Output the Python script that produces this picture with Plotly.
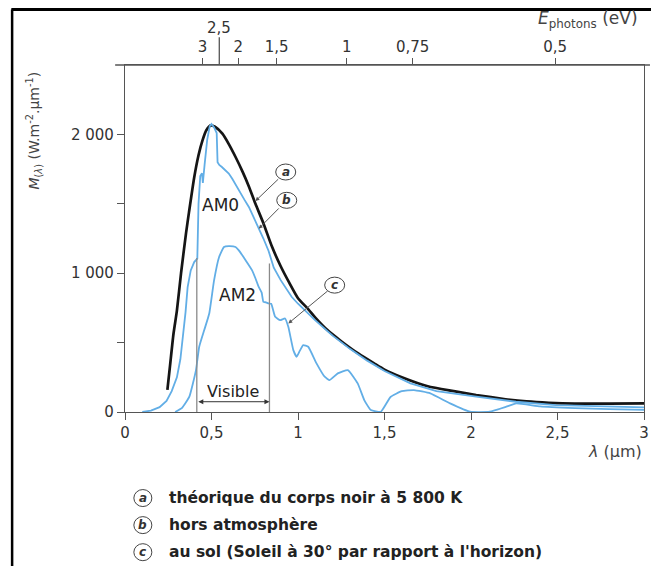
import plotly.graph_objects as go

# ---------------- data ----------------
bb_lambda = [0.245, 0.26, 0.28, 0.30, 0.324, 0.353, 0.37, 0.40, 0.425, 0.448, 0.47, 0.496, 0.52,
             0.563, 0.60, 0.639, 0.68, 0.716, 0.754, 0.80, 0.85, 0.90, 0.95, 1.00, 1.06, 1.10,
             1.17, 1.25, 1.35, 1.44, 1.50, 1.60, 1.75, 1.90, 2.03, 2.20, 2.32, 2.45, 2.60, 2.80, 3.00]
bb_values = [160, 330, 560, 730, 1000, 1290, 1440, 1690, 1850, 1957, 2030, 2065, 2055,
             2005, 1930, 1837, 1730, 1625, 1500, 1360, 1190, 1050, 930, 820, 740, 680,
             590, 510, 420, 350, 305, 250, 185, 150, 122, 92, 76, 66, 60, 60, 62]

am0_lambda = [0.10, 0.15, 0.20, 0.24, 0.27, 0.30, 0.32, 0.334, 0.35, 0.362, 0.38, 0.40, 0.418,
              0.425, 0.435, 0.445, 0.45, 0.46, 0.475, 0.49, 0.50, 0.515, 0.53, 0.535, 0.545,
              0.56, 0.58, 0.60, 0.62, 0.64, 0.658, 0.69, 0.716, 0.745, 0.773, 0.80, 0.83, 0.86,
              0.90, 0.963, 1.0, 1.1, 1.2, 1.3, 1.4, 1.5, 1.65, 1.8, 2.03, 2.26, 2.49, 2.75, 3.0]
am0_values = [0, 10, 35, 80, 150, 250, 380, 520, 720, 900, 1020, 1080, 1105,
              1500, 1700, 1720, 1650, 1780, 1960, 2060, 2075, 2050, 2010, 1800, 1780,
              1765, 1740, 1718, 1680, 1640, 1597, 1530, 1477, 1400, 1333, 1250, 1160, 1040,
              950, 830, 780, 660, 550, 455, 370, 295, 206, 150, 110, 74, 50, 40, 34]

am2_lambda = [0.29, 0.33, 0.372, 0.41, 0.429, 0.458, 0.487, 0.515, 0.544, 0.572, 0.60, 0.639,
              0.658, 0.697, 0.734, 0.755, 0.773, 0.79, 0.80, 0.815, 0.83, 0.845, 0.855, 0.868,
              0.897, 0.925, 0.944, 0.973, 0.992, 1.01, 1.03, 1.059, 1.107, 1.154, 1.183, 1.23,
              1.288, 1.345, 1.383, 1.421, 1.479, 1.536, 1.60, 1.67, 1.765, 1.879, 1.994, 2.108,
              2.204, 2.261, 2.4, 2.6, 2.8, 3.0]
am2_values = [0, 30, 110, 300, 470, 590, 710, 950, 1117, 1189, 1195, 1189,
              1165, 1094, 1022, 960, 901, 860, 793, 790, 782, 780, 740, 686,
              662, 674, 614, 446, 398, 440, 482, 470, 350, 254, 230, 278,
              302, 206, 86, 14, 2, 110, 150, 158, 134, 62, 2, 2,
              38, 62, 40, 28, 20, 15]

visible_bounds = [0.415, 0.835]
visible_tops = [1110, 1070]

x_tickvals = [0, 0.5, 1, 1.5, 2, 2.5, 3]
x_ticktext = ["0", "0,5", "1", "1,5", "2", "2,5", "3"]
y_tickvals = [0, 500, 1000, 1500, 2000]
y_ticktext = ["0", "", "1 000", "", "2 000"]

# photon energy axis (positions in µm, labels in eV)
top_tick_lambda = [0.448, 0.655, 0.876, 1.282, 1.663, 2.486]
top_tick_text = ["3", "2", "1,5", "1", "0,75", "0,5"]
top_major_lambda = 0.545
top_major_text = "2,5"

curve_labels = ["a", "b", "c"]
label_pos_lambda = [0.929, 0.935, 1.212]
label_pos_value = [1729, 1525, 914]
arrow_tip_lambda = [0.754, 0.773, 0.944]
arrow_tip_value = [1520, 1321, 638]

legend_texts = ["théorique du corps noir à 5 800 K",
                "hors atmosphère",
                "au sol (Soleil à 30° par rapport à l'horizon)"]

# ---------------- figure ----------------
FONT = "DejaVu Sans, Verdana, sans-serif"
BLUE = "#62aee6"
AX = "#555555"

fig = go.Figure()
fig.add_trace(go.Scatter(x=bb_lambda, y=bb_values, mode="lines",
                         line=dict(color="#151515", width=2.7, shape="spline", smoothing=0.6),
                         hoverinfo="skip", showlegend=False))
fig.add_trace(go.Scatter(x=am0_lambda, y=am0_values, mode="lines",
                         line=dict(color=BLUE, width=1.8),
                         hoverinfo="skip", showlegend=False))
fig.add_trace(go.Scatter(x=am2_lambda, y=am2_values, mode="lines",
                         line=dict(color=BLUE, width=1.8, shape="spline", smoothing=0.4),
                         hoverinfo="skip", showlegend=False))
for b, t in zip(visible_bounds, visible_tops):
    fig.add_trace(go.Scatter(x=[b, b], y=[0, t], mode="lines",
                             line=dict(color="#8a8a8a", width=1.3),
                             hoverinfo="skip", showlegend=False))
# invisible trace to carry the top axis
fig.add_trace(go.Scatter(x=[0, 3], y=[0, 0], xaxis="x2", mode="lines",
                         line=dict(width=0), opacity=0, hoverinfo="skip", showlegend=False))

annotations = []
shapes = []


def note(**kw):
    kw.setdefault("showarrow", False)
    kw.setdefault("xanchor", "center")
    kw.setdefault("yanchor", "middle")
    annotations.append(kw)


# visible double arrow
annotations.append(dict(x=visible_bounds[1], y=74, ax=visible_bounds[0], ay=74,
                        xref="x", yref="y", axref="x", ayref="y", text="",
                        showarrow=True, arrowside="end+start", arrowhead=2,
                        arrowsize=1, arrowwidth=1, arrowcolor="#333"))
note(x=sum(visible_bounds) / 2, y=148, xref="x", yref="y", text="Visible",
     font=dict(family=FONT, size=16, color="#222"))
note(x=0.553, y=1489, xref="x", yref="y", text="AM0",
     font=dict(family=FONT, size=17, color="#222"))
note(x=0.649, y=842, xref="x", yref="y", text="AM2",
     font=dict(family=FONT, size=17, color="#222"))

# circled curve labels with arrows
for lab, lx, ly, tx, ty in zip(curve_labels, label_pos_lambda, label_pos_value,
                               arrow_tip_lambda, arrow_tip_value):
    annotations.append(dict(x=tx, y=ty, ax=lx, ay=ly, xref="x", yref="y",
                            axref="x", ayref="y", text="<b><i>" + lab + "</i></b>",
                            showarrow=True, arrowhead=2, arrowsize=0.8, arrowwidth=1,
                            arrowcolor="#555", borderpad=3,
                            font=dict(family=FONT, size=12, color="#333")))
    shapes.append(dict(type="circle", xref="x", yref="y", xsizemode="pixel",
                       ysizemode="pixel", xanchor=lx, yanchor=ly,
                       x0=-10, x1=10, y0=-8, y1=8, line=dict(color="#444", width=1)))

# top axis special 2,5 tick
shapes.append(dict(type="line", xref="x", yref="paper", x0=top_major_lambda,
                   x1=top_major_lambda, y0=1.0, y1=1.08, line=dict(color=AX, width=1.3)))
note(x=top_major_lambda, y=1.107, xref="x", yref="paper", text=top_major_text,
     font=dict(family=FONT, size=15, color="#333"))
# top line extension
shapes.append(dict(type="line", xref="paper", yref="paper", x0=-0.019, x1=1.0115,
                   y0=1.0, y1=1.0, line=dict(color=AX, width=1.3)))

# axis titles
note(x=-0.176, y=0.81, xref="paper", yref="paper", textangle=-90,
     text="<i>M</i><sub>(<i>λ</i>)</sub> (W.m<sup>-2</sup>.µm<sup>-1</sup>)",
     font=dict(family=FONT, size=14, color="#444"))
note(x=1.0, y=-0.115, xref="paper", yref="paper", xanchor="right",
     text="<i>λ</i> (µm)", font=dict(family=FONT, size=16, color="#444"))
note(x=0.993, y=1.13, xref="paper", yref="paper", xanchor="right",
     text="<i>E</i><sub>photons</sub> (eV)", font=dict(family=FONT, size=17, color="#444"))

# bottom legend (circled letters + text)
legend_y = [-0.248, -0.326, -0.404]
for lab, txt, yy in zip(curve_labels, legend_texts, legend_y):
    note(x=0.0344, y=yy, xref="paper", yref="paper", text="<b><i>" + lab + "</i></b>",
         font=dict(family=FONT, size=12, color="#333"))
    shapes.append(dict(type="circle", xref="paper", yref="paper", xsizemode="pixel",
                       ysizemode="pixel", xanchor=0.0344, yanchor=yy,
                       x0=-9, x1=9, y0=-8.5, y1=8.5, line=dict(color="#444", width=1)))
    note(x=0.0805, y=yy, xref="paper", yref="paper", xanchor="left",
         text="<b>" + txt + "</b>", font=dict(family=FONT, size=15.5, color="#222"))

# page frame (top and left edges)
shapes.append(dict(type="line", xref="paper", yref="paper", x0=-0.219, x1=1.02,
                   y0=1.16, y1=1.16, line=dict(color="#000", width=3)))
shapes.append(dict(type="line", xref="paper", yref="paper", x0=-0.2175, x1=-0.2175,
                   y0=1.16, y1=-0.46, line=dict(color="#000", width=2.5)))

fig.update_layout(
    width=651, height=558,
    margin=dict(l=117, r=10, t=57, b=154),
    paper_bgcolor="white", plot_bgcolor="white",
    font=dict(family=FONT, size=15, color="#333"),
    xaxis=dict(range=[0, 3], tickvals=x_tickvals, ticktext=x_ticktext,
               showline=True, linecolor=AX, linewidth=1.3, ticks="outside",
               ticklen=7, tickcolor=AX, showgrid=False, zeroline=False,
               tickfont=dict(family=FONT, size=15, color="#333")),
    xaxis2=dict(range=[0, 3], overlaying="x", side="top", tickvals=top_tick_lambda,
                ticktext=top_tick_text, showline=True, linecolor=AX, linewidth=1.3,
                ticks="outside", ticklen=6, tickcolor=AX, showgrid=False, zeroline=False,
                tickfont=dict(family=FONT, size=15, color="#333")),
    yaxis=dict(range=[0, 2500], tickvals=y_tickvals, ticktext=y_ticktext,
               showline=True, linecolor=AX, linewidth=1.3, mirror=True, ticks="outside",
               ticklen=7, tickcolor=AX, showgrid=False, zeroline=False,
               tickfont=dict(family=FONT, size=15, color="#333")),
    annotations=annotations, shapes=shapes,
)

fig.write_html("out.html")
